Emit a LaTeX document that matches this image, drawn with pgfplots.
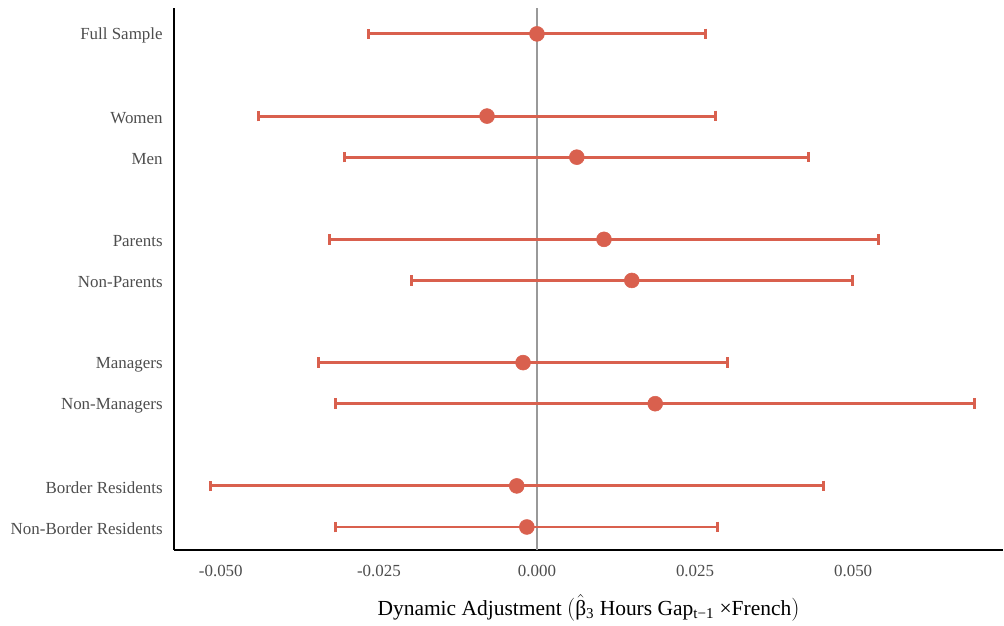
\documentclass[border=0pt]{standalone}
\usepackage{pgfplots}
\pgfplotsset{compat=1.18}
\usepackage{pgfplotstable}
\usepackage{fontspec}
\setmainfont{Liberation Serif}
\definecolor{pt}{RGB}{217,96,78}
\definecolor{tickgray}{RGB}{77,77,77}
\pgfplotstableread{
x y e
0.0000 12 0.0267
-0.0079 10 0.0361
0.0063 9 0.0367
0.0106 7 0.0434
0.0150 6 0.0349
-0.0022 4 0.0323
0.0187 3 0.0505
-0.0032 1 0.0485
-0.0016 0 0.0302
}\data
\begin{document}
\begin{tikzpicture}
\begin{axis}[name=ax,
  scale only axis,
  width=621.75pt, height=406.5pt,
  xmin=-0.0574, xmax=0.0737,
  ymin=-0.56, ymax=12.63,
  axis x line=bottom, axis y line=left,
  axis line style={-, line width=1.5pt, black},
  major tick length=0pt,
  xtick={-0.05,-0.025,0,0.025,0.05},
  xticklabel style={/pgf/number format/fixed, /pgf/number format/fixed zerofill, /pgf/number format/precision=3, /pgf/number format/assume math mode=true, yshift=-8pt},
  scaled x ticks=false,
  ytick={0,1,3,4,6,7,9,10,12},
  yticklabels={Non-Border Residents,Border Residents,Non-Managers,Managers,Non-Parents,Parents,Men,Women,Full Sample},
  tick label style={font=\fontsize{12.7}{15}\selectfont, text=tickgray},
  yticklabel style={xshift=-5pt, yshift=-1.5pt},
  xlabel={Dynamic Adjustment \(\Bigl(\hat{\hbox{β}}\)\textsubscript{3} Hours Gap\textsubscript{t−1} ×French\(\Bigr)\)},
  xlabel style={font=\fontsize{16.1}{19}\selectfont, yshift=-6pt},
  clip=false,
]
\addplot[gray!80, line width=1.1pt] coordinates {(0,-0.56) (0,12.63)};
\addplot[only marks, mark=*, mark size=5.6pt, color=pt, mark options={fill=pt, draw=pt},
  error bars/.cd, x dir=both, x explicit,
  error bar style={line width=2.2pt, color=pt},
  error mark options={rotate=90, mark size=4pt, line width=2.2pt, color=pt}]
  table[x=x, y=y, x error=e] {\data};
\end{axis}
\path (ax.south west) ++(-174*0.75pt,-74*0.75pt) rectangle ++(1004*0.75pt,624*0.75pt);
\end{tikzpicture}
\end{document}
